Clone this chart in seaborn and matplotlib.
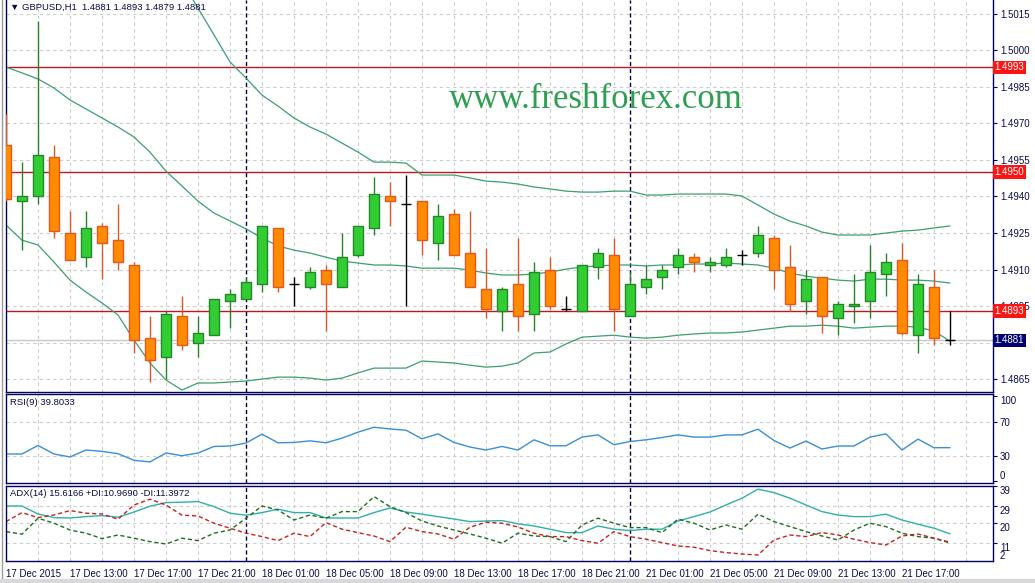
import numpy as np
import pandas as pd
import matplotlib
matplotlib.use('Agg')
import matplotlib.pyplot as plt
from matplotlib.lines import Line2D
import seaborn as sns

sns.set_style('white')
plt.rcParams['font.family'] = ['Liberation Sans', 'DejaVu Sans']
plt.rcParams['font.size'] = 7

NAVY = '#000060'
TXT = '#0b0b4a'
GRID = '#cccccc'

# ── Data: GBPUSD H1, 17 Dec 2015 09:00 -> 21 Dec 20:00 ─────────
opens = [1.4961, 1.4938, 1.4940, 1.4956, 1.4925, 1.4915, 1.4928, 1.4922, 1.4912, 1.4882,
         1.4874, 1.4891, 1.4880, 1.4883, 1.4897, 1.4898, 1.4904, 1.4927, 1.4904, 1.4903,
         1.4910, 1.4903, 1.4916, 1.4927, 1.4940, 1.4937, 1.4938, 1.4921, 1.4933, 1.4917,
         1.4902, 1.4893, 1.4904, 1.4892, 1.4910, 1.4894, 1.4893, 1.4911, 1.4916, 1.4891,
         1.4903, 1.4907, 1.4911, 1.4915, 1.4912, 1.4912, 1.4916, 1.4917, 1.4923, 1.4911,
         1.4897, 1.4907, 1.4890, 1.4895, 1.4897, 1.4908, 1.4914, 1.4883, 1.4903, 1.4881]
highs = [1.4974, 1.4954, 1.5012, 1.4961, 1.4934, 1.4934, 1.4929, 1.4937, 1.4913, 1.4891,
         1.4893, 1.4899, 1.4891, 1.4898, 1.4902, 1.4907, 1.4928, 1.4927, 1.4907, 1.4911,
         1.4912, 1.4925, 1.4928, 1.4948, 1.4946, 1.4949, 1.4938, 1.4937, 1.4935, 1.4934,
         1.4919, 1.4903, 1.4923, 1.4913, 1.4915, 1.4899, 1.4912, 1.4919, 1.4923, 1.4909,
         1.4912, 1.4912, 1.4919, 1.4917, 1.4915, 1.4919, 1.4918, 1.4928, 1.4924, 1.4920,
         1.4910, 1.4907, 1.4897, 1.4908, 1.4920, 1.4917, 1.4921, 1.4908, 1.4910, 1.4893]
lows = [1.4938, 1.4918, 1.4937, 1.4923, 1.4914, 1.4911, 1.4906, 1.4910, 1.4876, 1.4864,
        1.4865, 1.4877, 1.4874, 1.4883, 1.4886, 1.4898, 1.4901, 1.4901, 1.4895, 1.4902,
        1.4885, 1.4903, 1.4915, 1.4924, 1.4928, 1.4895, 1.4916, 1.4914, 1.4916, 1.4903,
        1.4890, 1.4885, 1.4885, 1.4885, 1.4894, 1.4893, 1.4893, 1.4906, 1.4885, 1.4891,
        1.4900, 1.4902, 1.4908, 1.4909, 1.4909, 1.4911, 1.4912, 1.4915, 1.4902, 1.4893,
        1.4892, 1.4884, 1.4883, 1.4888, 1.4890, 1.4899, 1.4883, 1.4876, 1.4879, 1.4879]
closes = [1.4939, 1.4940, 1.4957, 1.4926, 1.4914, 1.4927, 1.4921, 1.4913, 1.4881, 1.4873,
          1.4892, 1.4879, 1.4884, 1.4898, 1.4900, 1.4905, 1.4928, 1.4903, 1.4904, 1.4909,
          1.4904, 1.4915, 1.4928, 1.4941, 1.4938, 1.4937, 1.4922, 1.4932, 1.4916, 1.4903,
          1.4894, 1.4902, 1.4891, 1.4909, 1.4895, 1.4894, 1.4912, 1.4917, 1.4894, 1.4904,
          1.4906, 1.4910, 1.4916, 1.4913, 1.4913, 1.4915, 1.4916, 1.4924, 1.4910, 1.4896,
          1.4906, 1.4891, 1.4896, 1.4896, 1.4909, 1.4913, 1.4884, 1.4904, 1.4882, 1.4881]

# Bollinger bands (upper goes off-chart in the first hours)
bb_upper = [1.50579, 1.50593, 1.50563, 1.50559, 1.50535, 1.50510, 1.50481, 1.50456, 1.50477, 1.50447,
            1.50361, 1.50280, 1.50173, 1.50063, 1.49952, 1.49886, 1.49816, 1.49771, 1.49722, 1.49685,
            1.49656, 1.49619, 1.49582, 1.49541, 1.49541, 1.49537, 1.49488, 1.49488, 1.49488, 1.49476,
            1.49463, 1.49459, 1.49451, 1.49439, 1.49431, 1.49422, 1.49418, 1.49418, 1.49422, 1.49422,
            1.49406, 1.49406, 1.49410, 1.49410, 1.49410, 1.49410, 1.49402, 1.49365, 1.49328, 1.49299,
            1.49279, 1.49254, 1.49242, 1.49242, 1.49242, 1.49250, 1.49258, 1.49262, 1.49271, 1.49279]
bb_mid = [1.49931, 1.49907, 1.49882, 1.49845, 1.49796, 1.49759, 1.49722, 1.49685, 1.49644, 1.49582,
          1.49504, 1.49443, 1.49381, 1.49332, 1.49300, 1.49267, 1.49230, 1.49197, 1.49180, 1.49168,
          1.49151, 1.49135, 1.49127, 1.49119, 1.49119, 1.49115, 1.49106, 1.49106, 1.49106, 1.49098,
          1.49086, 1.49078, 1.49078, 1.49082, 1.49090, 1.49102, 1.49111, 1.49115, 1.49119, 1.49119,
          1.49115, 1.49119, 1.49119, 1.49123, 1.49123, 1.49127, 1.49123, 1.49119, 1.49106, 1.49086,
          1.49073, 1.49065, 1.49057, 1.49053, 1.49061, 1.49061, 1.49057, 1.49057, 1.49053, 1.49045]
bb_lower = [1.49283, 1.49221, 1.49201, 1.49131, 1.49057, 1.49008, 1.48963, 1.48914, 1.48811, 1.48717,
            1.48647, 1.48606, 1.48635, 1.48635, 1.48639, 1.48643, 1.48651, 1.48659, 1.48659, 1.48655,
            1.48647, 1.48655, 1.48676, 1.48696, 1.48696, 1.48696, 1.48725, 1.48721, 1.48717, 1.48708,
            1.48700, 1.48704, 1.48717, 1.48758, 1.48762, 1.48795, 1.48823, 1.48827, 1.48831, 1.48823,
            1.48819, 1.48823, 1.48831, 1.48836, 1.48840, 1.48840, 1.48844, 1.48852, 1.48860, 1.48868,
            1.48868, 1.48872, 1.48868, 1.48860, 1.48864, 1.48868, 1.48868, 1.48864, 1.48848, 1.48807]

rsi = [32.3, 32.3, 42.4, 32.3, 28.8, 37.0, 35.4, 32.7, 24.9, 23.0,
       33.5, 30.3, 33.5, 41.2, 41.7, 45.2, 55.7, 45.5, 45.9, 47.8,
       45.5, 51.0, 58.0, 63.8, 61.8, 60.3, 50.2, 56.0, 45.9, 40.5,
       37.0, 41.2, 37.0, 49.0, 42.0, 42.0, 52.2, 54.8, 43.2, 47.0,
       49.0, 51.7, 54.8, 52.2, 52.2, 54.8, 54.8, 61.5, 48.2, 39.3,
       47.5, 38.2, 41.7, 41.7, 52.2, 56.0, 37.0, 49.8, 39.7, 39.8]

adx = [29.5, 29.5, 25.5, 23.7, 23.5, 24.2, 24.7, 23.9, 26.5, 29.4,
       31.2, 31.4, 31.7, 29.2, 25.9, 24.9, 26.2, 27.9, 26.2, 26.2,
       23.5, 23.5, 23.5, 26.2, 28.5, 26.5, 25.4, 24.2, 23.0, 21.7,
       22.0, 22.2, 20.6, 19.5, 17.9, 16.2, 16.2, 19.5, 17.9, 17.2,
       17.9, 17.9, 22.0, 24.2, 26.5, 30.0, 33.4, 37.9, 36.2, 33.4,
       30.0, 26.7, 25.0, 24.2, 24.2, 25.4, 22.5, 20.4, 18.4, 15.6]
plus_di = [16.7, 15.4, 23.4, 20.9, 17.5, 15.9, 13.2, 15.0, 13.4, 11.7,
           10.5, 13.4, 12.2, 15.9, 17.5, 23.4, 29.5, 27.5, 22.5, 25.0,
           23.4, 26.7, 26.7, 34.2, 29.2, 26.2, 22.0, 19.5, 17.5, 15.5,
           13.4, 10.9, 15.9, 14.5, 14.2, 11.7, 20.0, 23.4, 20.9, 18.7,
           18.7, 16.2, 22.9, 20.9, 17.5, 20.0, 17.9, 25.4, 21.7, 19.2,
           16.7, 14.5, 12.5, 17.5, 20.9, 19.2, 15.9, 14.2, 13.4, 11.0]
minus_di = [21.7, 26.2, 23.7, 25.0, 27.2, 25.9, 25.5, 22.9, 30.0, 32.9,
            30.0, 24.9, 24.5, 20.9, 18.4, 15.9, 14.2, 12.2, 15.9, 14.2,
            21.2, 17.9, 16.2, 14.5, 11.7, 18.9, 16.7, 15.5, 12.9, 18.9,
            21.4, 20.9, 19.0, 15.9, 14.2, 14.2, 12.2, 10.9, 16.7, 14.2,
            12.9, 11.2, 9.5, 8.9, 7.2, 6.2, 5.5, 5.0, 12.5, 15.0,
            14.2, 16.2, 15.0, 12.9, 11.2, 10.0, 14.5, 15.5, 13.4, 11.4]

levels = [1.4993, 1.4950, 1.4893]
bid = 1.4881
price_ticks = [1.4865, 1.4880, 1.4895, 1.4910, 1.4925, 1.4940, 1.4955, 1.4970, 1.4985, 1.5000, 1.5015]
time_labels = ['17 Dec 2015', '17 Dec 13:00', '17 Dec 17:00', '17 Dec 21:00', '18 Dec 01:00',
               '18 Dec 05:00', '18 Dec 09:00', '18 Dec 13:00', '18 Dec 17:00', '18 Dec 21:00',
               '21 Dec 01:00', '21 Dec 05:00', '21 Dec 09:00', '21 Dec 13:00', '21 Dec 17:00', '']
day_breaks = [15, 39]   # bar index of 18 Dec 00:00 and 21 Dec 00:00

df = pd.DataFrame({'o': opens, 'h': highs, 'l': lows, 'c': closes})
df['i'] = np.arange(len(df))
up = df[df.c > df.o]
dn = df[df.c < df.o]
dj = df[df.c == df.o]

# ── Layout in pixels ──────────────────────────────────────────
W, H = 1035, 583
fig = plt.figure(figsize=(W / 100, H / 100), dpi=100)
fig.patch.set_facecolor('white')


def px_axes(x0, y0, x1, y1):
    return fig.add_axes([x0 / W, 1 - y1 / H, (x1 - x0) / W, (y1 - y0) / H])


ax = px_axes(6, 0, 993, 392)
ax_rsi = px_axes(6, 394, 993, 483)
ax_adx = px_axes(6, 486, 993, 561)
x_right = 61.69

for a in (ax, ax_rsi, ax_adx):
    a.set_xlim(0, x_right)
    a.set_facecolor('white')
    for s in a.spines.values():
        s.set_color(NAVY)
        s.set_linewidth(1)
    a.set_xticks(np.arange(0, 62, 4))
    a.set_xticks(np.arange(0, 62, 2), minor=True)
    a.grid(True, which='both', axis='x', color=GRID, ls=(0, (3, 3)), lw=0.8)
    a.yaxis.tick_right()
    a.tick_params(axis='y', direction='out', length=3, width=0.8, color=NAVY,
                  labelcolor=TXT, labelsize=7, pad=2)
    for b in day_breaks:
        a.axvline(b, color='#000040', ls=(0, (3, 2)), lw=1, zorder=1.5)
ax.spines['top'].set_visible(False)
for a in (ax, ax_rsi):
    a.tick_params(axis='x', which='both', length=0, labelbottom=False)

# ── Main price panel ──────────────────────────────────────────
ax.set_ylim(1.48598, 1.50206)
ax.set_yticks(price_ticks)
# 1.4880 sits under the bid label, as in the terminal
ax.set_yticklabels(['' if p == 1.4880 else f'{p:.4f}' for p in price_ticks])
ax.grid(True, which='major', axis='y', color=GRID, ls=(0, (3, 3)), lw=0.8)

ax.axhline(bid, color='#c8c8c8', lw=1, zorder=1.6)
for lv in levels:
    ax.axhline(lv, color='#c0161e', lw=1, zorder=2)

for band in (bb_upper, bb_mid, bb_lower):
    sns.lineplot(x=df['i'], y=band, ax=ax, color='#3c9f6e', lw=0.9, zorder=2.5)

# candles
ax.vlines(up.i, up.l, up.h, color='#23862a', lw=1, zorder=3)
ax.bar(up.i, up.c - up.o, bottom=up.o, width=0.64, color='#32cd32',
       edgecolor='#23862a', lw=1, zorder=4)
ax.vlines(dn.i, dn.l, dn.h, color='#e5571c', lw=1, zorder=3)
ax.bar(dn.i, dn.o - dn.c, bottom=dn.c, width=0.64, color='#ff8c00',
       edgecolor='#e5571c', lw=1, zorder=4)
ax.vlines(dj.i, dj.l, dj.h, color='black', lw=1, zorder=4)
ax.hlines(dj.c, dj.i - 0.34, dj.i + 0.34, color='black', lw=1, zorder=4)

ax.text(0.004, 0.993, '▼ GBPUSD,H1  1.4881 1.4893 1.4879 1.4881', transform=ax.transAxes,
        va='top', ha='left', color=TXT, fontsize=6.8)
ax.text(0.598, 0.745, 'www.freshforex.com', transform=ax.transAxes, ha='center', va='center',
        family='Liberation Serif', fontsize=25, color='#2e9e52')

ytr = ax.get_yaxis_transform()
for lv in levels:
    ax.text(1.0015, lv, f'{lv:.4f}', transform=ytr, ha='left', va='center', color='white',
            fontsize=7, clip_on=False, zorder=10,
            bbox=dict(boxstyle='square,pad=0.18', fc='#ff1414', ec='none'))
ax.text(1.0015, bid, f'{bid:.4f}', transform=ytr, ha='left', va='center', color='white',
        fontsize=7, clip_on=False, zorder=10,
        bbox=dict(boxstyle='square,pad=0.18', fc='#000070', ec='none'))

# ── RSI panel ─────────────────────────────────────────────────
ax_rsi.set_ylim(-1.8, 102.9)
ax_rsi.set_yticks([0, 30, 70, 100])
ax_rsi.set_yticklabels(['0', '30', '70', '100'])
rsi_ticks = ax_rsi.yaxis.get_major_ticks()
rsi_ticks[0].label2.set_va('bottom')
rsi_ticks[3].label2.set_va('top')
for lv in (30, 70):
    ax_rsi.axhline(lv, color=GRID, ls=(0, (3, 3)), lw=0.8)
sns.lineplot(x=df['i'], y=rsi, ax=ax_rsi, color='#3a8fd6', lw=1)
ax_rsi.text(0.004, 0.9, 'RSI(9) 39.8033', transform=ax_rsi.transAxes, va='center',
            color=TXT, fontsize=6.8)

# ── ADX panel ─────────────────────────────────────────────────
ax_adx.set_ylim(2, 39.5)
ax_adx.set_yticks([11.15, 20.85, 29.65, 39.5])
ax_adx.set_yticklabels(['11', '20', '29', '39'], va='top')
for lv in (11.15, 20.85, 29.65):
    ax_adx.axhline(lv, color=GRID, ls=(0, (3, 3)), lw=0.8)
ax_adx.text(1.007, 0.0, '2', transform=ax_adx.transAxes, va='bottom', ha='left',
            color=TXT, fontsize=7)
sns.lineplot(x=df['i'], y=adx, ax=ax_adx, color='#2fb0a8', lw=1)
sns.lineplot(x=df['i'], y=plus_di, ax=ax_adx, color='#1d6e1d', lw=1, linestyle=(0, (3, 2)))
sns.lineplot(x=df['i'], y=minus_di, ax=ax_adx, color='#c8201e', lw=1, linestyle=(0, (3, 2)))
ax_adx.text(0.004, 0.9, 'ADX(14) 15.6166 +DI:10.9690 -DI:11.3972', transform=ax_adx.transAxes,
            va='center', color=TXT, fontsize=6.8)
ax_adx.set_xticklabels(time_labels, ha='left')
ax_adx.tick_params(axis='x', which='major', direction='out', length=4, width=0.8, color=NAVY,
                   labelcolor=TXT, labelsize=7, pad=2)
ax_adx.tick_params(axis='x', which='minor', length=0)

for a in (ax, ax_rsi, ax_adx):
    a.set_xlabel('')
    a.set_ylabel('')

# window frame bits
fig.add_artist(Line2D([2 / W, 2 / W], [1 - 579 / H, 1], color='#9a9a9a', lw=1,
                      transform=fig.transFigure))
fig.add_artist(Line2D([0, 1], [1 - 581 / H, 1 - 581 / H], color='#d8d8d8', lw=3,
                      transform=fig.transFigure))

plt.savefig('out.png', dpi=100)
